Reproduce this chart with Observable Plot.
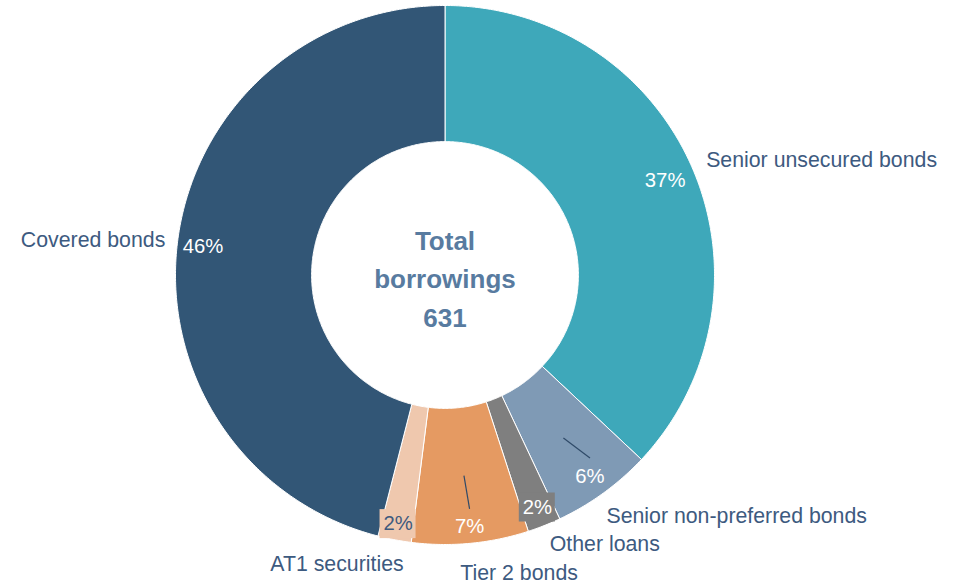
<!DOCTYPE html>
<html>
<head>
<meta charset="utf-8">
<script src="https://cdn.jsdelivr.net/npm/d3@7"></script>
<script src="https://cdn.jsdelivr.net/npm/@observablehq/plot@0.6"></script>
<style>
  html, body { margin: 0; padding: 0; background: #ffffff; }
  #chart svg { display: block; font-family: "Liberation Sans", Arial, sans-serif; }
</style>
</head>
<body>
<div id="chart"></div>
<script>
// ---- Data ----
const categories = ["Senior unsecured bonds", "Senior non-preferred bonds", "Other loans", "Tier 2 bonds", "AT1 securities", "Covered bonds"];
const shares = [37, 6, 2, 7, 2, 46];
const totalBorrowings = 631;
const centerTitle = ["Total", "borrowings"];

// ---- Styles / layout ----
const colors = ["#3EA8BA", "#7F9AB5", "#7F7F7F", "#E59A62", "#EFC8AE", "#325676"];
const W = 964, H = 584;
const CX = 444.5, CY = 274.5, R = 269.5;   // pixel geometry of the donut
const innerRatio = 0.495;
// percentage label placement: radius factor + pixel nudges
const pctLayout = [
  {r: 0.89, dx: 0, dy: 1, color: "#ffffff"},
  {r: 0.89, dx: 4, dy: 7, color: "#ffffff", leader: true},
  {r: 0.89, dx: 4, dy: 9, color: "#ffffff", box: true},
  {r: 0.89, dx: 2, dy: 13, color: "#ffffff", leader: true},
  {r: 0.89, dx: -2, dy: 13, color: "#3E5A7E", box: true},
  {r: 0.89, dx: -4, dy: 2, color: "#ffffff"}
];
// category label placement
const catLayout = [
  {dx: -5, dy: 0, anchor: "start"},
  {dx: -9, dy: 7, anchor: "start"},
  {dx: -2, dy: 0, anchor: "start"},
  {dx: -12, dy: 9, anchor: "start"},
  {dx: 13, dy: 4, anchor: "end"},
  {dx: 8, dy: 2, anchor: "end"}
];
const labelColor = "#3D5A80";
const centerColor = "#587BA0";

// ---- Geometry derived from data ----
const total = d3.sum(shares);
let acc = 0;
const slices = categories.map((name, i) => {
  const a0 = acc / total * 2 * Math.PI;
  acc += shares[i];
  const a1 = acc / total * 2 * Math.PI;
  return {name, value: shares[i], a0, a1, mid: (a0 + a1) / 2, i};
});
const polar = (r, a) => [r * Math.sin(a), r * Math.cos(a)];

const slicePts = [];
for (const s of slices) {
  const n = Math.max(4, Math.ceil((s.a1 - s.a0) / 0.01));
  const ring = [];
  for (let k = 0; k <= n; k++) ring.push(polar(1, s.a0 + (s.a1 - s.a0) * k / n));
  for (let k = n; k >= 0; k--) ring.push(polar(innerRatio, s.a0 + (s.a1 - s.a0) * k / n));
  ring.push(ring[0]);
  for (const [x, y] of ring) slicePts.push({name: s.name, x, y});
}

const pctLabels = slices.map(s => {
  const L = pctLayout[s.i];
  const [bx, by] = polar(L.r, s.mid);
  return {...s, x: bx + L.dx / R, y: by - L.dy / R, text: `${s.value}%`, color: L.color, box: !!L.box, leader: !!L.leader};
});
const leaders = pctLabels.filter(d => d.leader).map(d => {
  const [x1, y1] = polar((1 + innerRatio) / 2, d.mid);
  return {x1, y1, x2: d.x, y2: d.y + 18 / R};
});
const boxes = pctLabels.filter(d => d.box).map(d => ({
  name: d.name, x1: d.x - 18 / R, x2: d.x + 18 / R, y1: d.y - 15 / R, y2: d.y + 14 / R
}));
const catLabels = slices.map(s => {
  const L = catLayout[s.i];
  const [bx, by] = polar(290 / R, s.mid);
  return {name: s.name, x: bx + L.dx / R, y: by - L.dy / R, anchor: L.anchor};
});

const chart = Plot.plot({
  width: W,
  height: H,
  margin: 0,
  x: {domain: [-CX / R, (W - CX) / R], axis: null},
  y: {domain: [-(H - CY) / R, CY / R], axis: null},
  color: {domain: categories, range: colors},
  style: {fontFamily: "'Liberation Sans', Arial, sans-serif", background: "#ffffff"},
  marks: [
    Plot.line(slicePts, {x: "x", y: "y", z: "name", fill: "name", stroke: "#ffffff", strokeWidth: 1, curve: "linear"}),
    Plot.rect(boxes, {x1: "x1", x2: "x2", y1: "y1", y2: "y2", fill: "name"}),
    Plot.link(leaders, {x1: "x1", y1: "y1", x2: "x2", y2: "y2", stroke: "#2F4A68", strokeWidth: 1.2}),
    Plot.text(pctLabels.filter(d => d.color === "#ffffff"), {x: "x", y: "y", text: "text", fill: "#ffffff", fontSize: 20.3}),
    Plot.text(pctLabels.filter(d => d.color !== "#ffffff"), {x: "x", y: "y", text: "text", fill: "#3E5A7E", fontSize: 20.3}),
    Plot.text(catLabels.filter(d => d.anchor === "start"), {x: "x", y: "y", text: "name", textAnchor: "start", fill: labelColor, fontSize: 21.3}),
    Plot.text(catLabels.filter(d => d.anchor === "end"), {x: "x", y: "y", text: "name", textAnchor: "end", fill: labelColor, fontSize: 21.3}),
    Plot.text([[...centerTitle, String(totalBorrowings)].join("\n")], {x: () => 0, y: () => 0, text: d => d, fontSize: 26, fontWeight: "bold", fill: centerColor, lineHeight: 1.49, dy: 1})
  ]
});
document.getElementById("chart").appendChild(chart);
</script>
</body>
</html>
